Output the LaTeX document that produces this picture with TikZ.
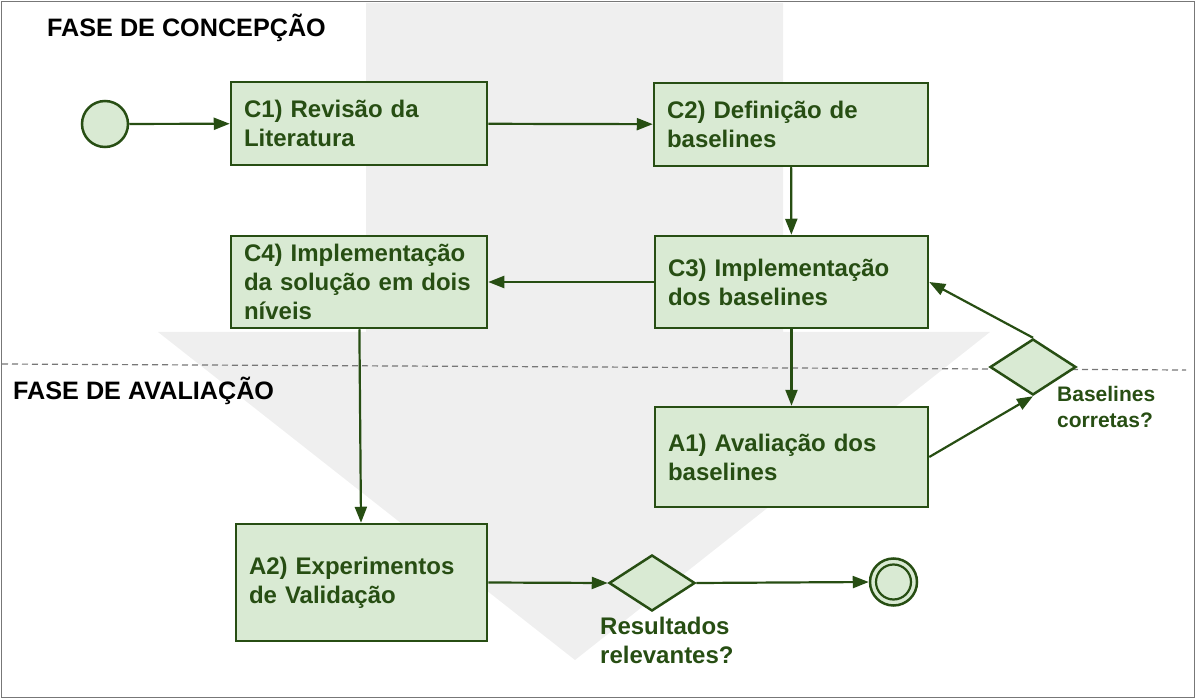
\documentclass[tikz,border=0pt]{standalone}
\usepackage{fontspec}
\setmainfont{Liberation Sans}
\usetikzlibrary{arrows.meta,shapes.geometric}
\definecolor{dgreen}{HTML}{274E13}
\definecolor{lgreen}{HTML}{D9EAD3}
\definecolor{bggray}{HTML}{EFEFEF}
\definecolor{framegray}{HTML}{777777}
\begin{document}
\begin{tikzpicture}[x=1pt,y=-1pt,
  stepbox/.style={draw=dgreen,fill=lgreen,line width=2.5pt,rectangle,
    inner xsep=13pt,inner ysep=0pt,align=left,text=dgreen,
    font=\bfseries\fontsize{24}{29}\selectfont},
  gate/.style={draw=dgreen,fill=lgreen,line width=2.5pt,diamond,inner sep=0pt,
    minimum width=86pt,minimum height=56pt},
  ev/.style={draw=dgreen,fill=lgreen,line width=2.5pt,circle,inner sep=0pt},
  flow/.style={draw=dgreen,line width=2.2pt,-{Triangle[length=16pt,width=12pt]}},
  lbl/.style={text=dgreen,align=left,inner sep=0pt},
  phase/.style={font=\bfseries\fontsize{25.2}{29}\selectfont,inner sep=0pt,anchor=base west}]
\useasboundingbox (0,0) rectangle (1196,700);
% background arrow
\fill[bggray] (366,3) -- (783,3) -- (783,332) -- (990,332) -- (575,660) -- (158,332) -- (366,332) -- cycle;
% frame
\draw[framegray,line width=1.5pt] (1.5,1.5) rectangle (1194.5,697.5);
% phase separator
\draw[framegray,line width=1.2pt,dash pattern=on 6pt off 4pt] (2,364) -- (1186,370);
% phase titles
\node[phase] (pc) at (47,37) {FASE DE CONCEPÇÃO};
\node[phase] (pa) at (13,399) {FASE DE AVALIAÇÃO};
% boxes
\node[stepbox,text width=230pt,minimum height=83pt] (c1) at (359,123.5) {C1) Revisão da\\Literatura};
\node[stepbox,text width=248pt,minimum height=83pt] (c2) at (791,124.5) {C2) Definição de\\baselines};
\node[stepbox,text width=247pt,minimum height=92pt] (c3) at (791.5,282) {C3) Implementação\\dos baselines};
\node[stepbox,text width=230pt,minimum height=92pt] (c4) at (359,282) {C4) Implementação\\da solução em dois\\níveis};
\node[stepbox,text width=247pt,minimum height=100pt] (a1) at (791.5,457) {A1) Avaliação dos\\baselines};
\node[stepbox,text width=225pt,minimum height=117pt] (a2) at (361.5,582.5) {A2) Experimentos\\de Validação};
% gateways
\node[gate] (g1) at (1033,367) {};
\node[gate] (g2) at (652,583) {};
% events
\node[ev,minimum size=46pt] (start) at (105,124) {};
\node[ev,minimum size=47pt] (end) at (893.5,582) {};
\node[draw=dgreen,line width=2.2pt,circle,inner sep=0pt,minimum size=35pt] (endin) at (end) {};
% labels
\node[lbl,anchor=north west,font=\bfseries\fontsize{21}{26}\selectfont] (l1) at (1057,386) {Baselines\\corretas?};
\node[lbl,anchor=north west,font=\bfseries\fontsize{24}{29}\selectfont] (l2) at (600,617) {Resultados\\relevantes?};
% flows
\draw[flow] (start) -- (c1);
\draw[flow] (c1) -- (c2);
\draw[flow] (c2) -- (c3);
\draw[flow] (c3) -- (c4);
\draw[flow] (c3) -- (a1);
\draw[flow] (c4) -- (a2);
\draw[flow] (a1.east) -- (g1.south);
\draw[flow] (g1.north) -- (c3.east);
\draw[flow] (a2.east) -- (g2.west);
\draw[flow] (g2.east) -- (end.west);
\end{tikzpicture}
\end{document}
